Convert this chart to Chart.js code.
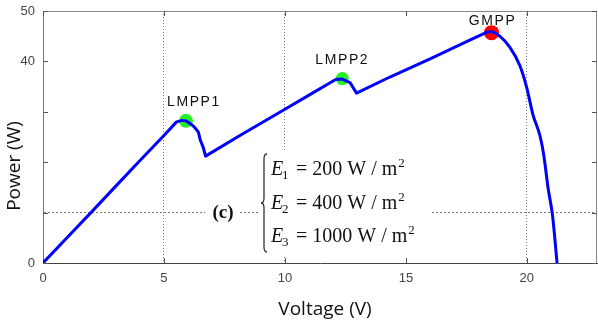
<!DOCTYPE html>
<html>
<head>
<meta charset="utf-8">
<script src="https://cdn.jsdelivr.net/npm/chart.js@4.4.1/dist/chart.umd.min.js"></script>
<style>
html,body{margin:0;padding:0;background:#fff;overflow:hidden;}
#wrap{width:598px;height:324px;position:relative;}
</style>
</head>
<body>
<div id="wrap"><canvas id="c" width="598" height="324"></canvas></div>
<script>
// ---- data ----
const voltage = [0, 1, 2, 3, 4, 5, 5.52, 5.75, 5.91, 6.1, 6.25, 6.42, 6.5, 6.62, 6.72, 8.14, 10, 11.03, 12.1, 12.37, 12.69, 12.96, 14.34, 16, 17.64, 18.4, 18.54, 18.88, 19.3, 19.71, 19.99, 20.26, 20.54, 20.7, 20.88, 21.06, 21.25];
const power   = [0, 5.07, 10.1, 15.2, 20.3, 25.3, 28.0, 28.3, 28.2, 27.6, 27.0, 26.0, 24.4, 23.0, 21.2, 25.3, 30.5, 33.4, 36.4, 36.5, 35.8, 33.7, 36.9, 40.5, 44.2, 45.9, 45.9, 45.0, 42.8, 39.2, 34.9, 29.3, 25.3, 21.4, 14.8, 9.5, 0];
const kneeIndex = 25; // point where the falling (curved) part begins
const mppVoltage = [5.91, 12.37, 18.54];
const mppPower   = [28.2, 36.6, 45.7];
const mppLabels  = ['LMPP1', 'LMPP2', 'GMPP'];
const mppColors  = ['#22ee22', '#22ee22', '#ff0000'];
const xTicks = [0, 5, 10, 15, 20];
const yTicks = [0, 10, 20, 30, 40, 50];
const yTickLabels = ['0', '', '', '', '40', '50'];
const xGridAt = [5, 10, 20];
const yGridAt = [10];
const legendLines = [['1', '200'], ['2', '400'], ['3', '1000']];

const curvePts = voltage.map((v, i) => ({x: v, y: power[i]}));
const risePts = curvePts.slice(0, kneeIndex + 1);
const fallPts = curvePts.slice(kneeIndex);
const mppPts = mppVoltage.map((v, i) => ({x: v, y: mppPower[i]}));

const decor = {
  id: 'decor',
  beforeDatasetsDraw(chart) {
    const ctx = chart.ctx;
    const a = chart.chartArea;
    const xs = chart.scales.x, ys = chart.scales.y;
    ctx.save();
    ctx.strokeStyle = '#888';
    ctx.lineWidth = 1;
    ctx.beginPath();
    ctx.moveTo(a.left, a.top + 0.5); ctx.lineTo(a.right, a.top + 0.5);
    ctx.moveTo(a.right - 0.5, a.top); ctx.lineTo(a.right - 0.5, a.bottom);
    ctx.stroke();
    ctx.strokeStyle = '#555';
    ctx.beginPath();
    xTicks.forEach(v => {
      const px = Math.round(xs.getPixelForValue(v)) + 0.5;
      ctx.moveTo(px, a.bottom); ctx.lineTo(px, a.bottom - 5);
      ctx.moveTo(px, a.top); ctx.lineTo(px, a.top + 5);
    });
    yTicks.forEach(v => {
      const py = Math.round(ys.getPixelForValue(v)) + 0.5;
      ctx.moveTo(a.left, py); ctx.lineTo(a.left + 5, py);
      ctx.moveTo(a.right, py); ctx.lineTo(a.right - 5, py);
    });
    ctx.stroke();
    ctx.fillStyle = '#fff';
    ctx.fillRect(205, 198, 33, 28);
    ctx.fillRect(260, 152, 170, 103);
    ctx.restore();
  },
  afterDraw(chart) {
    const ctx = chart.ctx;
    const meta = chart.getDatasetMeta(2);
    ctx.save();
    ctx.fillStyle = '#111';
    ctx.font = '14px "Liberation Sans", Arial, sans-serif';
    ctx.letterSpacing = '1.6px';
    ctx.textAlign = 'center';
    ctx.textBaseline = 'middle';
    const off = [[8, -19], [0, -18], [1, -12]];
    meta.data.forEach((p, i) => {
      ctx.fillText(mppLabels[i], p.x + off[i][0], p.y + off[i][1]);
    });
    ctx.letterSpacing = '0px';
    ctx.fillStyle = '#111';
    ctx.font = '19px "Open Sans", sans-serif';
    ctx.textAlign = 'center';
    ctx.textBaseline = 'alphabetic';
    ctx.fillText('Voltage (V)', 325, 315);
    ctx.save();
    ctx.translate(20, 166);
    ctx.rotate(-Math.PI / 2);
    ctx.fillText('Power (W)', 0, 0);
    ctx.restore();
    ctx.font = 'bold 19px "Liberation Serif", serif';
    ctx.textAlign = 'center';
    ctx.textBaseline = 'middle';
    ctx.fillText('(c)', 223, 213);
    ctx.strokeStyle = '#333';
    ctx.lineWidth = 1.3;
    ctx.beginPath();
    const bx = 267, bt = 154, bb = 252, bm = 203;
    ctx.moveTo(bx, bt);
    ctx.quadraticCurveTo(bx - 3, bt, bx - 3, bt + 5);
    ctx.lineTo(bx - 3, bm - 5);
    ctx.quadraticCurveTo(bx - 3, bm, bx - 6, bm);
    ctx.quadraticCurveTo(bx - 3, bm, bx - 3, bm + 5);
    ctx.lineTo(bx - 3, bb - 5);
    ctx.quadraticCurveTo(bx - 3, bb, bx, bb);
    ctx.stroke();
    ctx.textAlign = 'left';
    ctx.textBaseline = 'alphabetic';
    const base = [174.5, 208.5, 242];
    legendLines.forEach((ln, i) => {
      const y = base[i];
      ctx.font = 'italic 20px "Liberation Serif", serif';
      ctx.fillText('E', 271, y);
      ctx.font = '13px "Liberation Serif", serif';
      ctx.fillText(ln[0], 282, y + 4);
      ctx.font = '20px "Liberation Serif", serif';
      const s = '= ' + ln[1] + ' W / m';
      ctx.fillText(s, 296, y);
      const w = ctx.measureText(s).width;
      ctx.font = '13px "Liberation Serif", serif';
      ctx.fillText('2', 296 + w + 1, y - 8);
    });
    ctx.restore();
  }
};

new Chart(document.getElementById('c'), {
  type: 'scatter',
  data: {
    datasets: [
      {
        data: risePts,
        showLine: true,
        borderColor: '#0000ff',
        borderWidth: 3,
        pointRadius: 0,
        tension: 0,
        borderJoinStyle: 'round',
        fill: false
      },
      {
        data: fallPts,
        showLine: true,
        borderColor: '#0000ff',
        borderWidth: 3,
        pointRadius: 0,
        cubicInterpolationMode: 'monotone',
        borderJoinStyle: 'round',
        fill: false
      },
      {
        data: mppPts,
        showLine: false,
        pointRadius: [7, 6.5, 7.5],
        pointBackgroundColor: mppColors,
        pointBorderWidth: 0,
        pointBorderColor: mppColors
      }
    ]
  },
  options: {
    responsive: false,
    devicePixelRatio: 1,
    animation: false,
    layout: {autoPadding: false, padding: {top: 11, right: 1, left: 0, bottom: 0}},
    plugins: {legend: {display: false}, tooltip: {enabled: false}},
    scales: {
      x: {
        type: 'linear', min: 0, max: 22.9,
        afterFit(s) { s.height = 61; s.paddingLeft = 0; s.paddingRight = 0; },
        afterBuildTicks(s) { s.ticks = xTicks.map(v => ({value: v})); },
        ticks: {
          padding: 8, color: '#444',
          font: {family: '"Liberation Sans", Arial, sans-serif', size: 13},
          maxRotation: 0
        },
        grid: {
          drawTicks: false,
          color: c => xGridAt.includes(c.tick && c.tick.value) ? '#777' : 'rgba(0,0,0,0)',
          lineWidth: 1
        },
        border: {display: true, color: '#444', width: 1, dash: [1, 2]}
      },
      y: {
        type: 'linear', min: 0, max: 50,
        afterFit(s) { s.width = 43; s.paddingTop = 0; s.paddingBottom = 0; },
        afterBuildTicks(s) { s.ticks = yTicks.map(v => ({value: v})); },
        ticks: {
          padding: 8, color: '#444',
          font: {family: '"Liberation Sans", Arial, sans-serif', size: 13},
          callback: (v) => yTickLabels[yTicks.indexOf(v)]
        },
        grid: {
          drawTicks: false,
          color: c => yGridAt.includes(c.tick && c.tick.value) ? '#777' : 'rgba(0,0,0,0)',
          lineWidth: 1
        },
        border: {display: true, color: '#777', width: 1, dash: [2, 2]}
      }
    }
  },
  plugins: [decor]
});
</script>
</body>
</html>
